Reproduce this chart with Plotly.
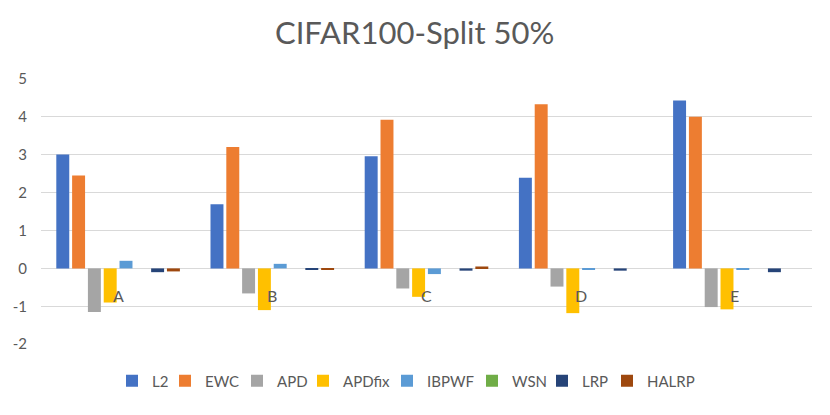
import plotly.graph_objects as go

categories = ['A', 'B', 'C', 'D', 'E']

l2 = [3.0, 1.69, 2.96, 2.39, 4.43]
ewc = [2.45, 3.2, 3.92, 4.33, 4.0]
apd = [-1.15, -0.66, -0.53, -0.48, -1.02]
apdfix = [-0.9, -1.1, -0.75, -1.18, -1.08]
ibpwf = [0.2, 0.12, -0.15, -0.02, -0.02]
wsn = [0, 0, 0, 0, 0]
lrp = [-0.1, -0.04, -0.06, -0.06, -0.1]
halrp = [-0.08, -0.03, 0.05, 0, 0]

series = [
    ('L2', l2, '#4472C4'),
    ('EWC', ewc, '#ED7D31'),
    ('APD', apd, '#A5A5A5'),
    ('APDfix', apdfix, '#FFC000'),
    ('IBPWF', ibpwf, '#5B9BD5'),
    ('WSN', wsn, '#70AD47'),
    ('LRP', lrp, '#264478'),
    ('HALRP', halrp, '#9E480E'),
]

ytick_vals = [-2, -1, 0, 1, 2, 3, 4, 5]
ytick_text = ['-2', '-1', '0', '1', '2', '3', '4', '5']

# where each legend entry starts (px from left), so spacing looks like Excel's
legend_x_px = [104, 157, 229, 295, 379, 464, 534, 599]

fig = go.Figure()
layout_legends = {}
for i, (name, vals, color) in enumerate(series):
    key = 'legend' if i == 0 else 'legend%d' % (i + 1)
    fig.add_trace(go.Bar(x=categories, y=vals, name=name, legend=key, showlegend=True,
                         marker=dict(color=color, line=dict(width=0))))
    layout_legends[key] = dict(orientation='h', xref='container', yref='container',
                               x=legend_x_px[i] / 830, xanchor='left',
                               y=0.101, yanchor='middle',
                               font=dict(size=15, color='#595959'),
                               bgcolor='rgba(0,0,0,0)')

# category labels sit just under the zero line, like Excel does
for c in categories:
    fig.add_annotation(x=c, y=0, text=c, showarrow=False, yshift=-27,
                       font=dict(size=16, color='#595959'))

fig.update_layout(
    width=830, height=415, showlegend=True,
    paper_bgcolor='white', plot_bgcolor='white',
    font=dict(family='Lato', color='#595959', size=14),
    title=dict(text='CIFAR100-Split 50%', xref='container', yref='container',
               x=0.49, xanchor='center', y=0.94, yanchor='middle',
               font=dict(size=31, color='#595959')),
    barmode='group', bargap=0.18, bargroupgap=0.18,
    margin=dict(l=33, r=26, t=70, b=78, autoexpand=False),
    xaxis=dict(showticklabels=False, showgrid=False, zeroline=False, showline=False),
    yaxis=dict(range=[-2.02, 5.02], tickvals=ytick_vals, ticktext=ytick_text,
               showgrid=True, gridcolor='#D9D9D9', gridwidth=1,
               zeroline=True, zerolinecolor='#D9D9D9', zerolinewidth=1,
               ticklabelstandoff=13, tickfont=dict(size=15)),
    **layout_legends,
)

fig.write_html('out.html')
